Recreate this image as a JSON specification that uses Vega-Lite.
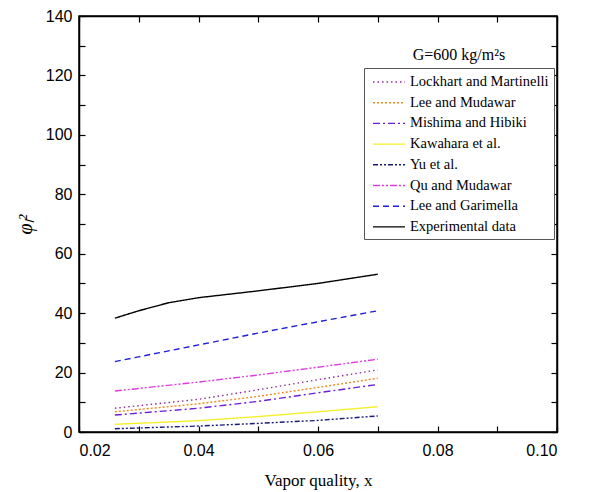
{
  "$schema": "https://vega.github.io/schema/vega-lite/v6.json",
  "width": 478,
  "height": 416,
  "autosize": {"type": "none"},
  "padding": {"left": 79, "top": 16, "right": 37, "bottom": 60},
  "background": "white",
  "config": {
    "view": {"stroke": "black", "strokeWidth": 1.5},
    "axis": {
      "grid": false,
      "domainColor": "black",
      "domainWidth": 1.5,
      "tickColor": "black",
      "tickWidth": 1.2,
      "tickSize": -6,
      "labelFont": "Liberation Sans",
      "labelFontSize": 16,
      "labelColor": "black",
      "titleFont": "Liberation Serif",
      "titleFontWeight": "normal",
      "titleColor": "black"
    },
    "legend": {
      "labelFont": "Liberation Serif",
      "labelFontSize": 14.5,
      "labelColor": "black"
    }
  },
  "datasets": {
    "curves": [
      {"x": 0.026, "y": 8.0, "model": "Lockhart and Martinelli"},
      {"x": 0.04, "y": 11.0, "model": "Lockhart and Martinelli"},
      {"x": 0.05, "y": 14.2, "model": "Lockhart and Martinelli"},
      {"x": 0.06, "y": 17.6, "model": "Lockhart and Martinelli"},
      {"x": 0.07, "y": 20.9, "model": "Lockhart and Martinelli"},
      {"x": 0.026, "y": 6.8, "model": "Lee and Mudawar"},
      {"x": 0.04, "y": 9.5, "model": "Lee and Mudawar"},
      {"x": 0.05, "y": 12.0, "model": "Lee and Mudawar"},
      {"x": 0.06, "y": 15.0, "model": "Lee and Mudawar"},
      {"x": 0.07, "y": 18.1, "model": "Lee and Mudawar"},
      {"x": 0.026, "y": 5.7, "model": "Mishima and Hibiki"},
      {"x": 0.04, "y": 8.0, "model": "Mishima and Hibiki"},
      {"x": 0.05, "y": 10.3, "model": "Mishima and Hibiki"},
      {"x": 0.06, "y": 13.2, "model": "Mishima and Hibiki"},
      {"x": 0.07, "y": 16.0, "model": "Mishima and Hibiki"},
      {"x": 0.026, "y": 2.6, "model": "Kawahara et al."},
      {"x": 0.04, "y": 3.8, "model": "Kawahara et al."},
      {"x": 0.05, "y": 5.2, "model": "Kawahara et al."},
      {"x": 0.06, "y": 6.8, "model": "Kawahara et al."},
      {"x": 0.07, "y": 8.5, "model": "Kawahara et al."},
      {"x": 0.026, "y": 1.1, "model": "Yu et al."},
      {"x": 0.04, "y": 2.0, "model": "Yu et al."},
      {"x": 0.05, "y": 2.9, "model": "Yu et al."},
      {"x": 0.06, "y": 3.9, "model": "Yu et al."},
      {"x": 0.07, "y": 5.4, "model": "Yu et al."},
      {"x": 0.026, "y": 13.8, "model": "Qu and Mudawar"},
      {"x": 0.04, "y": 16.8, "model": "Qu and Mudawar"},
      {"x": 0.05, "y": 19.2, "model": "Qu and Mudawar"},
      {"x": 0.06, "y": 21.8, "model": "Qu and Mudawar"},
      {"x": 0.07, "y": 24.5, "model": "Qu and Mudawar"},
      {"x": 0.026, "y": 23.7, "model": "Lee and Garimella"},
      {"x": 0.03, "y": 25.3, "model": "Lee and Garimella"},
      {"x": 0.04, "y": 29.3, "model": "Lee and Garimella"},
      {"x": 0.05, "y": 33.3, "model": "Lee and Garimella"},
      {"x": 0.06, "y": 37.1, "model": "Lee and Garimella"},
      {"x": 0.07, "y": 40.8, "model": "Lee and Garimella"},
      {"x": 0.026, "y": 38.3, "model": "Experimental data"},
      {"x": 0.03, "y": 40.8, "model": "Experimental data"},
      {"x": 0.035, "y": 43.5, "model": "Experimental data"},
      {"x": 0.04, "y": 45.2, "model": "Experimental data"},
      {"x": 0.05, "y": 47.5, "model": "Experimental data"},
      {"x": 0.06, "y": 50.0, "model": "Experimental data"},
      {"x": 0.07, "y": 53.1, "model": "Experimental data"}
    ],
    "note": [
      {"x": 0.0836, "y": 126.9, "label": "G=600 kg/m²s"}
    ]
  },
  "layer": [
    {
      "data": {"name": "curves"},
      "mark": {"type": "line", "strokeWidth": 1.4},
      "encoding": {
        "x": {
          "field": "x", "type": "quantitative",
          "scale": {"domain": [0.02, 0.1], "nice": false, "zero": false},
          "axis": {
            "values": [0.02, 0.03, 0.04, 0.05, 0.06, 0.07, 0.08, 0.09, 0.1],
            "format": ".2f",
            "labelExpr": "round(datum.value * 100) % 2 == 0 ? datum.label : ''",
            "labelPadding": 16,
            "title": "Vapor quality, x",
            "titleFontSize": 17,
            "titlePadding": 14
          }
        },
        "y": {
          "field": "y", "type": "quantitative",
          "scale": {"domain": [0, 140], "nice": false},
          "axis": {
            "values": [0, 10, 20, 30, 40, 50, 60, 70, 80, 90, 100, 110, 120, 130, 140],
            "labelExpr": "datum.value % 20 == 0 ? datum.label : ''",
            "labelPadding": 13,
            "title": "φₗ²",
            "titleFontSize": 20,
            "titleFontStyle": "italic",
            "titlePadding": 10
          }
        },
        "detail": {"field": "model"},
        "color": {
          "field": "model", "type": "nominal",
          "scale": {
            "domain": ["Lockhart and Martinelli", "Lee and Mudawar", "Mishima and Hibiki", "Kawahara et al.", "Yu et al.", "Qu and Mudawar", "Lee and Garimella", "Experimental data"],
            "range": ["#8a2b9e", "#f08a1c", "#6a1fd6", "#f4f02a", "#1a1a78", "#e03ce0", "#1f1fd8", "#000000"]
          },
          "legend": {
            "title": null,
            "orient": "none",
            "legendX": 285,
            "legendY": 52,
            "symbolType": "M-2,0H2",
            "symbolSize": 256,
            "symbolStrokeWidth": 1.4,
            "symbolOffset": 11,
            "rowPadding": 4.7,
            "padding": 5,
            "strokeColor": "#555555",
            "fillColor": "white",
            "labelOffset": 12
          }
        },
        "strokeDash": {
          "field": "model", "type": "nominal",
          "scale": {
            "domain": ["Lockhart and Martinelli", "Lee and Mudawar", "Mishima and Hibiki", "Kawahara et al.", "Yu et al.", "Qu and Mudawar", "Lee and Garimella", "Experimental data"],
            "range": [[1.5, 3], [2, 2], [7, 3, 2, 3], [1, 0], [5, 2, 2, 2, 2, 2], [7, 2, 2, 2, 2, 2], [6, 4], [1, 0]]
          },
          "legend": null
        }
      }
    },
    {
      "data": {"name": "note"},
      "mark": {"type": "text", "font": "Liberation Serif", "fontSize": 16, "color": "black", "align": "center", "baseline": "middle"},
      "encoding": {
        "x": {
          "field": "x", "type": "quantitative",
          "scale": {"domain": [0.02, 0.1], "nice": false, "zero": false},
          "axis": {"orient": "top", "values": [0.02, 0.03, 0.04, 0.05, 0.06, 0.07, 0.08, 0.09, 0.1], "labels": false, "title": null}
        },
        "y": {
          "field": "y", "type": "quantitative",
          "scale": {"domain": [0, 140], "nice": false},
          "axis": {"orient": "right", "values": [0, 10, 20, 30, 40, 50, 60, 70, 80, 90, 100, 110, 120, 130, 140], "labels": false, "title": null}
        },
        "text": {"field": "label"}
      }
    }
  ],
  "resolve": {"axis": {"x": "independent", "y": "independent"}}
}
